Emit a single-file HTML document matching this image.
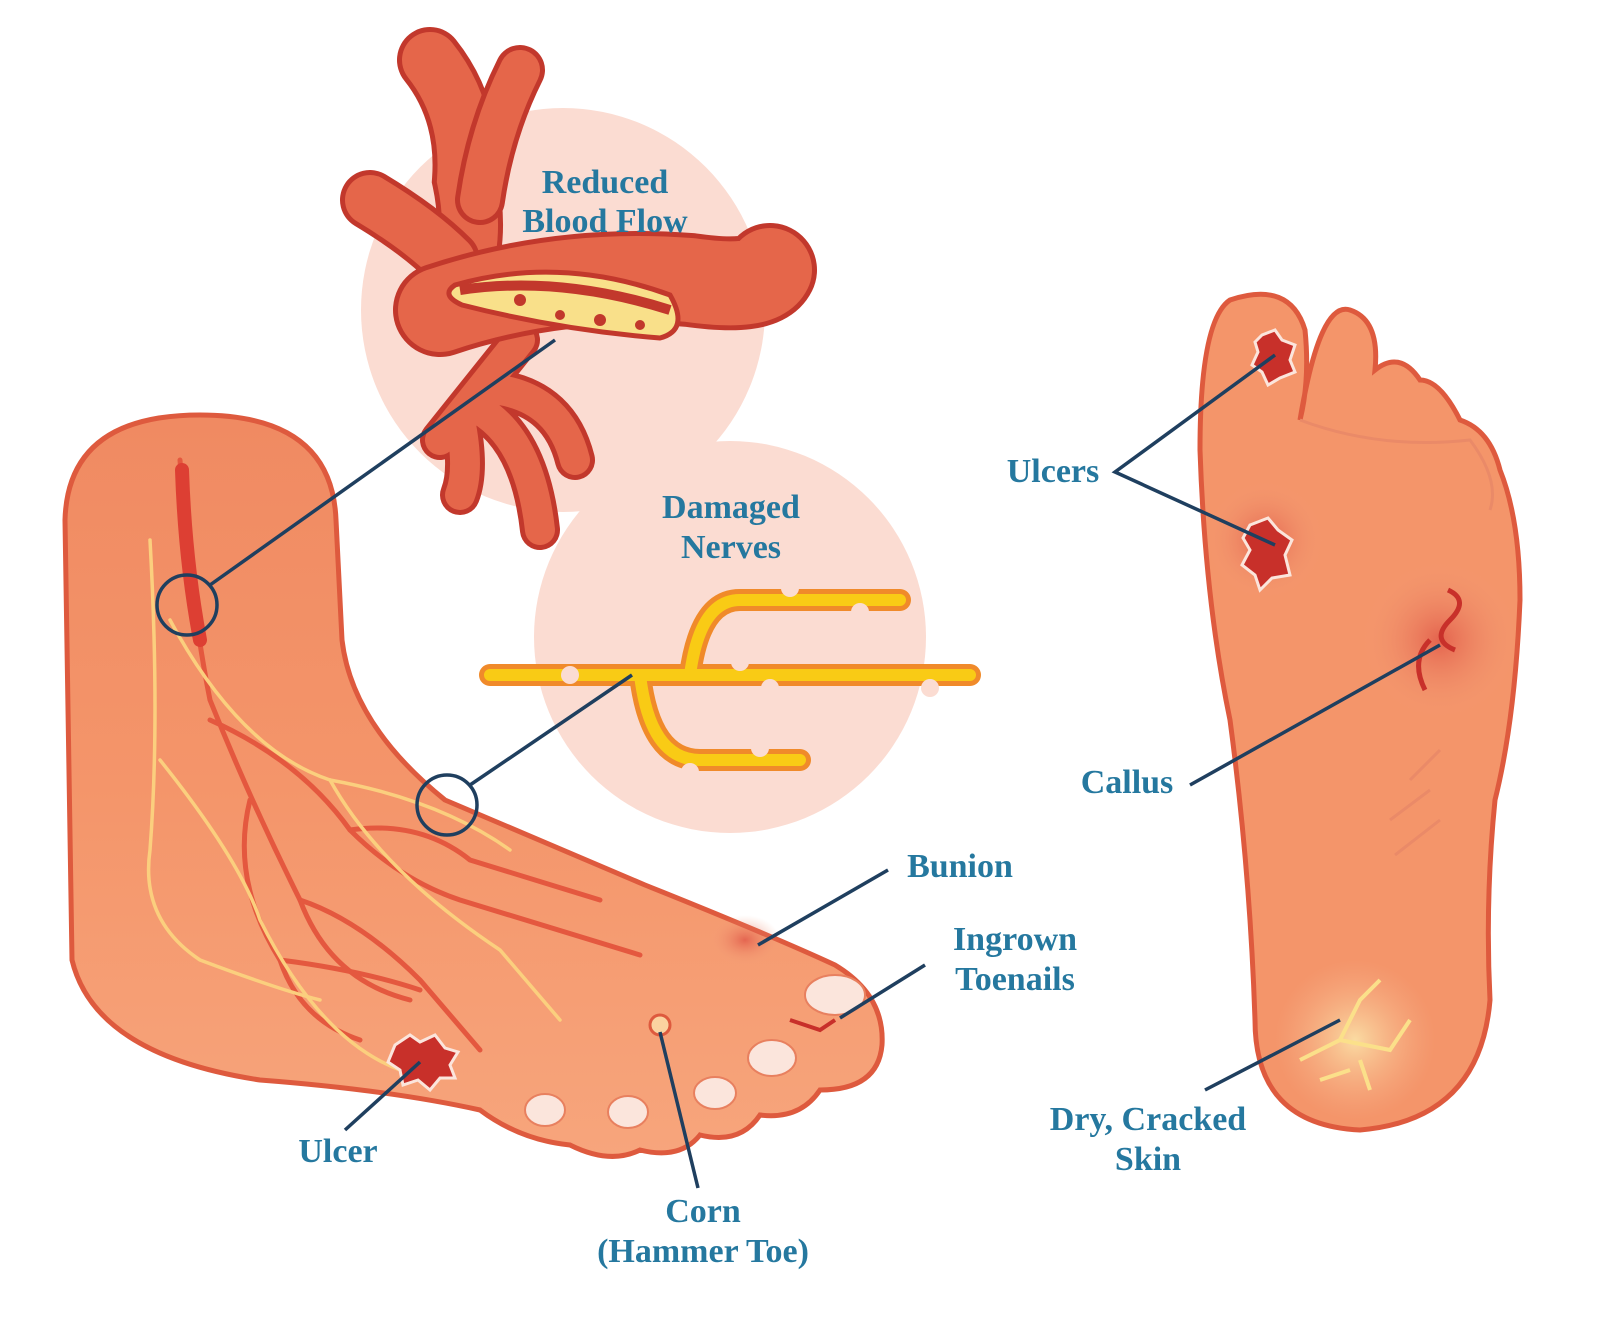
<!DOCTYPE html>
<html><head><meta charset="utf-8"><style>
html,body{margin:0;padding:0;background:#fff;}
svg{display:block}
text{font-family:"Liberation Serif",serif;font-weight:bold;font-size:34px;fill:#25789f;text-anchor:middle}
</style></head><body>
<svg width="1600" height="1333" viewBox="0 0 1600 1333" xmlns="http://www.w3.org/2000/svg">
<defs>
<radialGradient id="sp" cx="0.5" cy="0.5" r="0.5"><stop offset="0" stop-color="#d9413a" stop-opacity="0.6"/><stop offset="1" stop-color="#f3a27e" stop-opacity="0"/></radialGradient>
<radialGradient id="yl" cx="0.5" cy="0.5" r="0.5"><stop offset="0" stop-color="#fbe3a8" stop-opacity="0.9"/><stop offset="1" stop-color="#f7b48e" stop-opacity="0"/></radialGradient>
<linearGradient id="leg" x1="0" y1="0" x2="0" y2="1"><stop offset="0" stop-color="#f08a62"/><stop offset="0.5" stop-color="#f4956a"/><stop offset="1" stop-color="#f7a57c"/></linearGradient>
</defs>
<circle cx="563" cy="310" r="202" fill="#fbdcd2"/>
<circle cx="730" cy="637" r="196" fill="#fbdcd2"/>

<path d="M65,520 Q68,415 200,415 Q332,415 336,520 L342,640 Q352,725 445,800 L645,885 Q770,935 835,965 Q885,995 882,1045 Q878,1090 820,1090 Q800,1120 760,1115 Q740,1145 700,1135 Q680,1160 640,1150 Q610,1165 570,1145 Q520,1140 480,1110 Q390,1090 260,1080 Q95,1055 72,960 Z" fill="url(#leg)" stroke="#de5a3e" stroke-width="5"/>
<g fill="none" stroke="#e4583f" stroke-width="5" stroke-linecap="round">
<path d="M180,460 Q190,600 210,700 Q250,800 300,900 Q330,980 410,1000"/>
<path d="M210,720 Q300,760 350,830 Q400,880 460,900 L640,955"/>
<path d="M250,800 Q230,880 280,960 Q300,1020 360,1040"/>
<path d="M300,900 Q360,920 420,980 L480,1050"/>
<path d="M350,830 Q420,820 470,860 L600,900"/>
<path d="M280,960 Q360,970 420,990"/>
</g>
<path d="M182,470 Q185,560 200,640" stroke="#dd3f33" stroke-width="14" fill="none" stroke-linecap="round"/>
<g fill="none" stroke="#fbcf7e" stroke-width="3.5" stroke-linecap="round">
<path d="M150,540 Q160,720 150,850 Q140,920 200,960 Q280,990 320,1000"/>
<path d="M170,620 Q240,750 330,780 Q440,800 510,850"/>
<path d="M160,760 Q240,860 260,920 Q320,1040 400,1070"/>
<path d="M330,780 Q380,870 500,950 L560,1020"/>
</g>
<g fill="#fbe5dc" stroke="#e8805f" stroke-width="2">
<ellipse cx="545" cy="1110" rx="20" ry="16"/>
<ellipse cx="628" cy="1112" rx="20" ry="16"/>
<ellipse cx="715" cy="1093" rx="21" ry="16"/>
<ellipse cx="772" cy="1058" rx="24" ry="18"/>
<ellipse cx="835" cy="995" rx="30" ry="20"/>
</g>
<path d="M790,1020 L820,1030 L835,1020" stroke="#c8302a" stroke-width="4" fill="none"/>
<circle cx="660" cy="1025" r="10" fill="#fbd3a0" stroke="#de5a3e" stroke-width="3"/>
<ellipse cx="745" cy="940" rx="35" ry="25" fill="url(#sp)"/>
<polygon points="395,1045 410,1035 420,1042 435,1035 445,1048 458,1052 450,1065 455,1078 440,1078 430,1090 418,1080 403,1085 400,1070 388,1062" fill="#c8302a" stroke="#fbe5dc" stroke-width="3"/>

<path d="M1230,300 Q1290,280 1305,330 Q1310,380 1300,420 Q1320,300 1350,310 Q1380,320 1375,370 Q1400,350 1420,380 Q1440,380 1460,420 Q1490,430 1500,470 Q1520,520 1520,600 Q1515,720 1495,800 Q1485,900 1490,1000 Q1480,1120 1360,1130 Q1255,1125 1255,1020 Q1250,870 1230,720 Q1205,600 1200,450 Q1200,320 1230,300Z" fill="#f4956a" stroke="#de5a3e" stroke-width="5"/>
<circle cx="1265" cy="540" r="60" fill="url(#sp)"/>
<circle cx="1440" cy="640" r="80" fill="url(#sp)"/>
<circle cx="1355" cy="1040" r="80" fill="url(#yl)"/>
<polygon points="1262,335 1275,330 1282,340 1295,345 1290,360 1295,372 1280,378 1268,385 1262,372 1252,365 1258,352 1255,342" fill="#c8302a" stroke="#fbe5dc" stroke-width="3"/>
<polygon points="1250,525 1268,518 1278,530 1292,540 1285,555 1290,575 1272,578 1260,590 1255,575 1242,565 1250,550 1243,538" fill="#c8302a" stroke="#fbe5dc" stroke-width="3"/>
<path d="M1448,590 Q1470,600 1450,620 Q1430,640 1455,650 M1430,640 Q1410,660 1425,690" stroke="#c8302a" stroke-width="5" fill="none"/>
<path d="M1300,1060 L1340,1040 L1360,1000 L1380,980 M1340,1040 L1390,1050 L1410,1020 M1320,1080 L1350,1070 M1360,1060 L1370,1090" stroke="#fbe08a" stroke-width="4" fill="none"/>
<g stroke="#ea8a68" stroke-width="3" fill="none">
<path d="M1300,420 Q1380,450 1470,440 Q1500,480 1490,510"/>
<path d="M1410,780 L1440,750 M1390,820 L1430,790 M1395,855 L1440,820"/>
</g>

<g stroke-linecap="round" fill="none">
<path d="M430,60 Q470,110 465,180 Q480,250 450,300" stroke="#c2382c" stroke-width="66"/>
<path d="M430,60 Q470,110 465,180 Q480,250 450,300" stroke="#e5664a" stroke-width="56"/>
<path d="M520,70 Q490,130 480,200" stroke="#c2382c" stroke-width="50"/>
<path d="M520,70 Q490,130 480,200" stroke="#e5664a" stroke-width="40"/>
<path d="M370,200 Q420,230 450,260" stroke="#c2382c" stroke-width="60"/>
<path d="M370,200 Q420,230 450,260" stroke="#e5664a" stroke-width="50"/>
<path d="M520,340 Q480,390 440,440 M460,420 Q470,470 460,495 M480,410 Q530,440 540,530 M500,390 Q560,400 575,460" stroke="#c2382c" stroke-width="40"/>
<path d="M520,340 Q480,390 440,440 M460,420 Q470,470 460,495 M480,410 Q530,440 540,530 M500,390 Q560,400 575,460" stroke="#e5664a" stroke-width="30"/>
<path d="M440,310 Q560,270 690,280 Q760,290 770,270" stroke="#c2382c" stroke-width="94"/>
<path d="M440,310 Q560,270 690,280 Q760,290 770,270" stroke="#e5664a" stroke-width="84"/>
</g>
<path d="M455,285 Q560,255 670,295 Q690,330 660,338 Q560,330 462,305 Q440,295 455,285Z" fill="#f9e08a" stroke="#c2382c" stroke-width="5"/>
<path d="M460,290 Q560,275 670,310" stroke="#c2382c" stroke-width="10" fill="none"/>
<g fill="#c2382c"><circle cx="520" cy="300" r="6"/><circle cx="560" cy="315" r="5"/><circle cx="600" cy="320" r="6"/><circle cx="640" cy="325" r="5"/></g>

<g stroke-linecap="round" fill="none">
<g stroke="#f08a2a" stroke-width="22">
<path d="M490,675 L970,675 M690,675 Q700,600 740,600 L900,600 M640,675 Q650,760 700,760 L800,760"/>
</g>
<g stroke="#f9cb15" stroke-width="12">
<path d="M490,675 L970,675 M690,675 Q700,600 740,600 L900,600 M640,675 Q650,760 700,760 L800,760"/>
</g>
</g>
<g fill="#fbdcd2"><circle cx="570" cy="675" r="9"/><circle cx="740" cy="662" r="9"/><circle cx="770" cy="688" r="9"/><circle cx="790" cy="588" r="9"/><circle cx="860" cy="612" r="9"/><circle cx="930" cy="688" r="9"/><circle cx="690" cy="772" r="9"/><circle cx="760" cy="748" r="9"/></g>

<g stroke="#1f3f5f" stroke-width="3.5" fill="none">
<circle cx="187" cy="605" r="30"/><path d="M210,585 L555,340"/>
<circle cx="447" cy="805" r="30"/><path d="M470,785 L632,675"/>
<path d="M1275,355 L1115,472 L1275,545"/>
<path d="M1190,785 L1440,645"/>
<path d="M888,870 L758,945"/>
<path d="M925,965 L840,1018"/>
<path d="M1205,1090 L1340,1020"/>
<path d="M345,1130 L420,1062"/>
<path d="M698,1188 L660,1032"/>
</g>

<text x="605" y="193">Reduced</text><text x="605" y="232">Blood Flow</text>
<text x="731" y="518">Damaged</text><text x="731" y="558">Nerves</text>
<text x="1053" y="482">Ulcers</text>
<text x="1127" y="793">Callus</text>
<text x="960" y="877">Bunion</text>
<text x="1015" y="950">Ingrown</text><text x="1015" y="990">Toenails</text>
<text x="1148" y="1130">Dry, Cracked</text><text x="1148" y="1170">Skin</text>
<text x="338" y="1162">Ulcer</text>
<text x="703" y="1222">Corn</text><text x="703" y="1262">(Hammer Toe)</text>
</svg>
</body></html>
